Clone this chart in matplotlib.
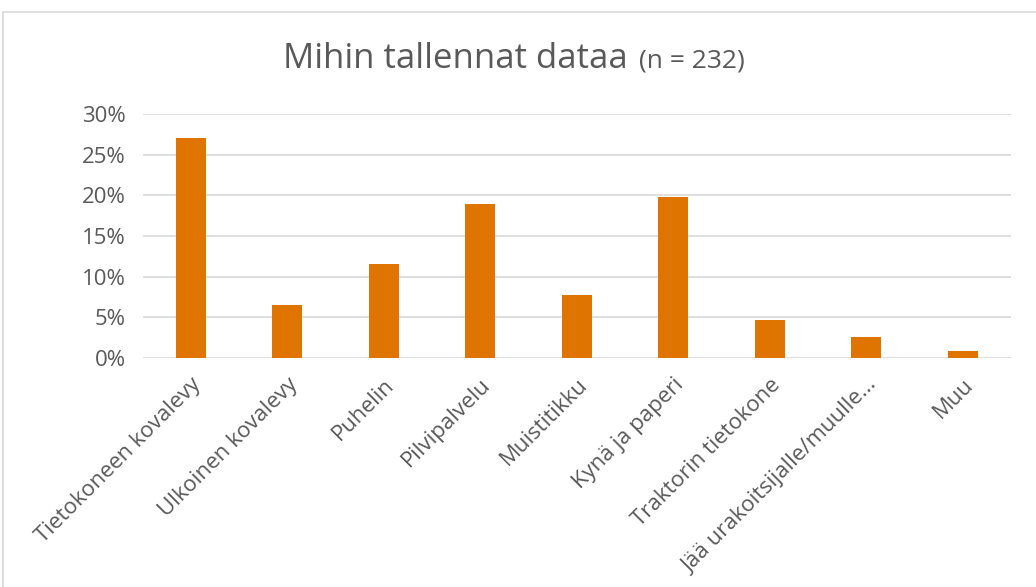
import matplotlib.pyplot as plt
from matplotlib.patches import Rectangle
from matplotlib.ticker import PercentFormatter

categories = ["Tietokoneen kovalevy", "Ulkoinen kovalevy", "Puhelin", "Pilvipalvelu",
              "Muistitikku", "Kynä ja paperi", "Traktorin tietokone",
              "Jää urakoitsijalle/muulle...", "Muu"]
shares = [0.271, 0.065, 0.116, 0.1895, 0.077, 0.198, 0.047, 0.0255, 0.008]
yticks = [0, 0.05, 0.10, 0.15, 0.20, 0.25, 0.30]

plt.rcParams['font.family'] = ['Open Sans', 'DejaVu Sans']
GREY = '#595959'

fig = plt.figure(figsize=(10.36, 5.87), dpi=100)
fig.patches.append(Rectangle((3 / 1036, -0.01), 1.0, 1 - 12 / 587 + 0.01,
                             transform=fig.transFigure, fill=False,
                             edgecolor='#d9d9d9', linewidth=1.2))

ax = fig.add_axes([142.5 / 1036, 1 - 357.7 / 587, (1011 - 142.5) / 1036, (357.7 - 114.3) / 587])
x = range(len(categories))
ax.bar(x, shares, width=0.316, color='#e07400', zorder=3)

ax.set_xlim(-0.5, len(categories) - 0.5)
ax.set_ylim(0, 0.30)
ax.set_yticks(yticks)
ax.yaxis.set_major_formatter(PercentFormatter(1.0, decimals=0))
ax.grid(axis='y', color='#d9d9d9', linewidth=1.2, zorder=0)
for s in ax.spines.values():
    s.set_visible(False)
ax.tick_params(length=0, colors=GREY, labelsize=16)
ax.tick_params(axis='y', pad=12)
ax.set_xticks(list(x))
ax.set_xticklabels(categories, rotation=45, ha='right', rotation_mode='anchor',
                   fontsize=16, color=GREY)
ax.tick_params(axis='x', pad=12)

fig.text(628 / 1036, 1 - 68 / 587, "Mihin tallennat dataa", ha='right', va='baseline',
         fontsize=25, color=GREY)
fig.text(639 / 1036, 1 - 68 / 587, "(n = 232)", ha='left', va='baseline',
         fontsize=19, color=GREY)

fig.savefig('out.png', dpi=100)
